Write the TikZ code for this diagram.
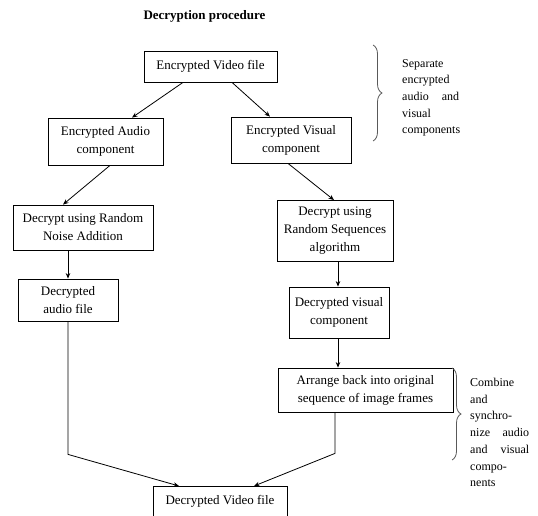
\documentclass[tikz,border=0pt]{standalone}
\usepackage{fontspec}
\setmainfont{Liberation Serif}
\usetikzlibrary{calc,arrows.meta,decorations.pathreplacing}
\begin{document}
\begin{tikzpicture}[x=1pt,y=-1pt,
  box/.style={draw=black, line width=0.8pt, align=center, inner sep=0pt, font=\fontsize{13}{18}\selectfont},
  conn/.style={line width=0.8pt, -{Stealth[length=5.5pt,width=4.5pt]}},
  brc/.style={draw=black!65, line width=0.8pt, decorate, decoration={brace, amplitude=9pt}},
  side/.style={anchor=north west, inner sep=0pt, align=left, font=\fontsize{12}{16.7}\selectfont}]
\useasboundingbox (0,0) rectangle (538,516);
\node[font=\fontsize{13}{15}\selectfont\bfseries] (title) at (204.5,16) {Decryption procedure};
\node[box, minimum width=133, minimum height=31] (video) at (210.5,66.5) {Encrypted Video file};
\node[box, minimum width=115, minimum height=47] (audio) at (105.5,141.5) {Encrypted Audio\\component};
\node[box, minimum width=120, minimum height=46] (visual) at (291,140) {Encrypted Visual\\component};
\node[box, minimum width=140, minimum height=45] (noise) at (83,227.5) {Decrypt using Random\\Noise Addition};
\node[box, minimum width=116, minimum height=61] (seq) at (335,231) {Decrypt using\\Random Sequences\\algorithm};
\node[box, minimum width=100, minimum height=42] (decaudio) at (68,300) {Decrypted\\audio file};
\node[box, minimum width=100, minimum height=51] (decvis) at (339,312.5) {Decrypted visual\\component};
\node[box, minimum width=175, minimum height=44] (arr) at (365.5,390) {Arrange back into original\\sequence of image frames};
\node[box, anchor=north, minimum width=134, text height=13pt, text depth=14pt, inner ysep=5pt] (final) at (220,486) {Decrypted Video file};

\draw[conn] ($(video.south)+(-27.5,0)$) -- ($(audio.north)+(26.5,0)$);
\draw[conn] ($(video.south)+(21.5,0)$) -- ($(visual.north)+(-21,0)$);
\draw[conn] ($(audio.south)+(4.5,0)$) -- ($(noise.north)+(-20,0)$);
\draw[conn] ($(visual.south)+(-3,0)$) -- ($(seq.north)+(-1,0)$);
\draw[conn] ($(noise.south)+(-15,0)$) -- (decaudio.north);
\draw[conn] ($(seq.south)+(3,0)$) -- ($(decvis.north)+(-1,0)$);
\draw[conn] ($(decvis.south)+(-1,0)$) -- ($(arr.north)+(-27.5,0)$);
\draw[conn] (decaudio.south) -- ++(0,133) -- ($(final.north)+(-41,0)$);
\draw[conn] ($(arr.south)+(-30.5,0)$) -- ++(0,41) -- ($(final.north)+(34,0)$);

\coordinate (b1t) at (373,45);
\coordinate (b1b) at (373,141);
\coordinate (b2t) at (452,368);
\coordinate (b2b) at (452,460);
\draw[brc] (b1t) -- (b1b);
\draw[brc] (b2t) -- (b2b);

\node[side, text width=57pt] (sep) at (402,59) {Separate\\encrypted\\audio\hfill and\\visual\\components};
\node[side, text width=59pt] (comb) at (470,378) {Combine\\and\\synchro-\\nize\hfill audio\\and\hfill visual\\compo-\\nents};
\end{tikzpicture}
\end{document}
